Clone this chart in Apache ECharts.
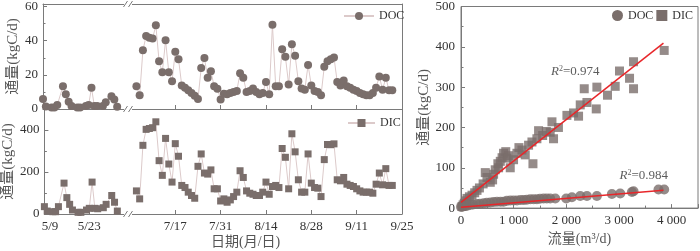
<!DOCTYPE html>
<html><head><meta charset="utf-8">
<script src="https://cdn.jsdelivr.net/npm/echarts@6/dist/echarts.min.js"></script>
<style>html,body{margin:0;padding:0;background:#fff}#c{width:700px;height:251px}</style>
</head><body><div id="c"></div>
<script>
// ---- time series, first segment (May–June)
const leftDates = ['5/7','5/8','5/10','5/11','5/12','5/14','5/15','5/16','5/17','5/19','5/20','5/22','5/23','5/24','5/25','5/26','5/28','5/29','5/31','6/1','6/2'];
const leftDOC = [5.8,1.5,0.9,0.9,2.3,13.3,8.6,4.2,1.7,0.9,0.9,1.7,2.3,12.5,1.7,1.7,1.7,3.9,7.5,5.5,1.3];
const leftDIC = [35,14,11,11,35,147,78,46,19,8,8,19,27,152,27,25,30,46,88,56,14];
// ---- time series, second segment (July–September)
const rightDates = ['7/5','7/6','7/7','7/8','7/9','7/10','7/11','7/12','7/13','7/14','7/15','7/16','7/17','7/18','7/19','7/20','7/21','7/22','7/23','7/24','7/25','7/26','7/27','7/28','7/29','7/30','7/31',
 '8/1','8/2','8/3','8/4','8/5','8/6','8/7','8/8','8/9','8/10','8/11','8/12','8/13','8/14','8/15','8/16','8/17','8/18','8/19','8/20','8/21','8/22','8/23','8/24','8/25','8/26','8/27','8/28','8/29','8/30','8/31',
 '9/1','9/2','9/3','9/4','9/5','9/6','9/7','9/8','9/9','9/10','9/11','9/12','9/13','9/14','9/15','9/16','9/17','9/18','9/19','9/20','9/21','9/22'];
const rightDOC = [13.3,8,34.4,42.7,41.7,41.3,49,27.9,21.5,40.2,21.5,16.3,33.6,29.2,13.8,12.5,11,9.4,7.7,5.8,24,29.8,18.3,22.1,13.3,11.9,5.6,
 9,8.7,9.4,10,10.6,21,18.3,10,10.6,12,10,8.7,9.4,15.8,8.7,49.4,13.3,13.3,35,30.6,14.4,37.9,31.2,16.2,12,11.3,25.8,13.8,10.6,10,8,
 24.8,27.9,29.2,30.2,15.8,13.8,16.7,13.3,12.5,11.3,10.6,9.4,8.7,8,8,9.4,12.5,19,11.3,18.3,11,11];
const rightDIC = [110,72,327,403,407,411,439,254,184,360,238,152,335,275,136,126,104,88,75,227,286,195,190,210,120,120,62,
 72,56,67,83,104,206,174,110,99,94,88,88,104,152,94,131,136,126,312,270,120,382,296,163,104,104,286,147,126,123,83,
 259,331,330,334,163,158,174,142,136,131,120,110,104,104,104,99,142,195,139,216,136,136];
const leftTickLabels = ['5/9','5/23'];
const rightTickLabels = ['7/17','7/31','8/14','8/28','9/11','9/25'];
// ---- scatter: flow (m3/d) vs flux
const docFlow = [0,20,40,82,120,177,230,304,360,430,490,556,620,683,750,809,870,936,1000,1063,1130,1192,1250,1315,1380,1442,1500,1568,1630,1694,1790,1998,2106,2264,2391,2580,2865,3023,3245,3276,3750,3858];
const docFlux = [3,4,4,5,6,8,9,10,11,12,13,14,15,16,16,16,18,19,19,19,20,20,21,22,22,22,23,24,24,24,24,24,27,30,30,30,35,36,40,42,46,46];
const dicFlow = [19,40,63,90,114,160,209,260,304,350,420,461,493,556,600,619,650,700,714,746,780,808,850,873,900,935,998,1062,1100,1157,1220,1283,1347,1366,1441,1473,1550,1620,1694,1727,1757,1850,2011,2137,2232,2264,2340,2391,2568,2580,2782,2928,3010,3200,3276,3276,3858];
const dicFlux = [4,8,12,18,24,28,32,38,44,50,60,88,76,64,70,84,95,110,100,116,125,136,140,124,130,100,120,136,150,144,132,156,164,110,172,192,180,190,188,214,172,200,230,236,228,256,296,262,246,300,280,302,340,322,296,363,391];
const docFit = [[0,2],[3844,44]];
const dicFit = [[0,14],[3844,409]];
const r2DOC = {text:'0.984', at:[3470,80]};
const r2DIC = {text:'0.974', at:[2170,339]};

const cum=[0,31,59,90,120,151,181,212,243,273,304,334];
function doy(s){const p=s.split('/');return cum[+p[0]-1]+(+p[1]);}
function md(v){v=Math.round(v);let m=0;while(m<11&&cum[m+1]<v)m++;return (m+1)+'/'+(v-cum[m]);}
const pair=(ds,vs)=>ds.map((d,i)=>[doy(d),vs[i]]);

const SERIF='"Liberation Serif","Times New Roman",serif';
const MIX='"Liberation Serif","Noto Sans CJK SC",serif';
const AX='#7a7a7a', TXT='#333';
const MK='#7a6e6b', LN='#dccaca';
const lblStyle={fontFamily:SERIF,fontSize:13,color:TXT};
const nameStyle={fontFamily:MIX,fontSize:15,color:'#555'};

function dateX(grid,min,max,labels,showLabel){
  const cv=labels.map(doy);
  return {type:'value',gridIndex:grid,min,max,position:'bottom',
    axisLine:{show:true,lineStyle:{color:AX}},
    axisTick:{show:true,inside:true,length:4,customValues:cv,lineStyle:{color:AX}},
    axisLabel:{show:showLabel,customValues:cv,formatter:md,margin:6,...lblStyle},
    splitLine:{show:false}};
}
function lineX(grid,min,max){
  return {type:'value',gridIndex:grid,min,max,position:'top',axisLine:{show:true,lineStyle:{color:AX}},axisTick:{show:false},axisLabel:{show:false},splitLine:{show:false}};
}
function valY(grid,max,interval,name,gap){
  return {type:'value',gridIndex:grid,min:0,max,interval,position:'left',
    name,nameLocation:'middle',nameGap:gap,nameTextStyle:nameStyle,
    axisLine:{show:true,lineStyle:{color:AX}},
    axisTick:{show:true,inside:true,length:4,lineStyle:{color:AX}},
    minorTick:{show:true,splitNumber:2,length:2.5,lineStyle:{color:AX}},
    axisLabel:{showMaxLabel:false,margin:5,...lblStyle},
    splitLine:{show:false}};
}
function borderY(grid,max){
  return {type:'value',gridIndex:grid,min:0,max,position:'right',axisLine:{show:true,lineStyle:{color:AX}},axisTick:{show:false},axisLabel:{show:false},splitLine:{show:false}};
}
const L0=127,L1=156.8,R0=183.4,R1=268;
function tsLine(name,x,y,data,sym,size){
  return {type:'line',name,xAxisIndex:x,yAxisIndex:y,data,symbol:sym,symbolSize:size,
    lineStyle:{color:LN,width:1},itemStyle:{color:MK},showSymbol:true,animation:false,z:3};
}
function brk(x,y){
  return [
    {type:'rect',shape:{x:x-4,y:y-2,width:8,height:4},style:{fill:'#fff'},z:100},
    {type:'line',shape:{x1:x-4.5,y1:y+3,x2:x-0.5,y2:y-3},style:{stroke:AX,lineWidth:1},z:101},
    {type:'line',shape:{x1:x+0.5,y1:y+3,x2:x+4.5,y2:y-3},style:{stroke:AX,lineWidth:1},z:101}
  ];
}
const legText={fontFamily:SERIF,fontSize:12,color:TXT};

const chart=echarts.init(document.getElementById('c'),null,{renderer:'canvas'});
chart.setOption({
  animation:false,
  grid:[
    {left:43,top:4,width:85,height:105},
    {left:128,top:4,width:274,height:105},
    {left:43,top:109,width:85,height:105},
    {left:128,top:109,width:274,height:105},
    {left:461,top:5,right:2,bottom:37.7,show:true,borderColor:AX,borderWidth:1}
  ],
  xAxis:[
    dateX(0,L0,L1,leftTickLabels,false),
    dateX(1,R0,R1,rightTickLabels,false),
    dateX(2,L0,L1,leftTickLabels,true),
    dateX(3,R0,R1,rightTickLabels,true),
    lineX(0,L0,L1),
    lineX(1,R0,R1),
    {type:'value',gridIndex:4,min:0,max:4500,interval:1000,
      name:'流量(m³/d)',nameLocation:'middle',nameGap:22,nameTextStyle:{...nameStyle,fontSize:14},
      axisLine:{show:true,lineStyle:{color:AX}},
      axisTick:{show:true,inside:true,length:4,lineStyle:{color:AX}},
      minorTick:{show:true,splitNumber:2,length:2.5,lineStyle:{color:AX}},
      axisLabel:{showMaxLabel:false,margin:6,formatter:v=>v>=1000?Math.floor(v/1000)+' '+String(v%1000).padStart(3,'0'):String(v),...lblStyle},
      splitLine:{show:false}}
  ],
  yAxis:[
    valY(0,61.5,20,'通量(kgC/d)',22),
    borderY(1,61.5),
    valY(2,500,200,'通量(kgC/d)',22),
    borderY(3,500),
    {type:'value',gridIndex:4,min:0,max:500,interval:100,
      name:'通量(kgC/d)',nameLocation:'middle',nameGap:26,nameTextStyle:nameStyle,
      axisLine:{show:true,lineStyle:{color:AX}},
      axisTick:{show:true,inside:true,length:4,lineStyle:{color:AX}},
      minorTick:{show:true,splitNumber:2,length:2.5,lineStyle:{color:AX}},
      axisLabel:{margin:6,...lblStyle},splitLine:{show:false}}
  ],
  legend:[
    {data:['DOC'],left:343,top:10,padding:0,itemWidth:30,itemHeight:10,selectedMode:false,textStyle:legText},
    {data:['DIC'],left:347,top:117,padding:0,itemWidth:27,itemHeight:10,selectedMode:false,textStyle:legText},
    {data:[{name:'DOC',icon:'circle'},{name:'DIC',icon:'rect'}],orient:'horizontal',left:612,top:9.5,padding:0,width:100,itemWidth:11,itemHeight:11,itemGap:3,selectedMode:false,textStyle:legText}
  ],
  graphic:[...brk(128,4),...brk(128,109),...brk(128,214),
    {type:'text',left:211,top:235,style:{text:'日期(月/日)',font:'14px "Liberation Serif","Noto Sans CJK SC"',fill:'#555'}}],
  series:[
    tsLine('DOC',0,0,pair(leftDates,leftDOC),'circle',8),
    tsLine('DOC',1,1,pair(rightDates,rightDOC),'circle',8),
    tsLine('DIC',2,2,pair(leftDates,leftDIC),'rect',7),
    tsLine('DIC',3,3,pair(rightDates,rightDIC),'rect',7),
    {type:'scatter',name:'DIC',xAxisIndex:6,yAxisIndex:4,data:dicFlow.map((f,i)=>[f,dicFlux[i]]),symbol:'rect',symbolSize:9,itemStyle:{color:MK}},
    {type:'scatter',name:'DOC',xAxisIndex:6,yAxisIndex:4,data:docFlow.map((f,i)=>[f,docFlux[i]]),symbol:'circle',symbolSize:10,itemStyle:{color:MK}},
    {type:'line',xAxisIndex:6,yAxisIndex:4,data:dicFit,symbol:'none',lineStyle:{color:'#e8262a',width:1.5},z:5},
    {type:'line',xAxisIndex:6,yAxisIndex:4,data:docFit,symbol:'none',lineStyle:{color:'#e8262a',width:1.5},z:5},
    {type:'scatter',xAxisIndex:6,yAxisIndex:4,silent:true,symbolSize:1,itemStyle:{color:'rgba(0,0,0,0)'},z:6,
      data:[{value:r2DIC.at,t:r2DIC.text},{value:r2DOC.at,t:r2DOC.text}],
      label:{show:true,position:'inside',formatter:p=>'{i|R}{s|2}{n|='+p.data.t+'}',
        rich:{i:{fontFamily:SERIF,fontStyle:'italic',fontSize:13,color:TXT,lineHeight:14},
              s:{fontFamily:SERIF,fontSize:8,color:TXT,verticalAlign:'top',lineHeight:14},
              n:{fontFamily:SERIF,fontSize:13,color:TXT,lineHeight:14}}}}
  ]
});
</script></body></html>
